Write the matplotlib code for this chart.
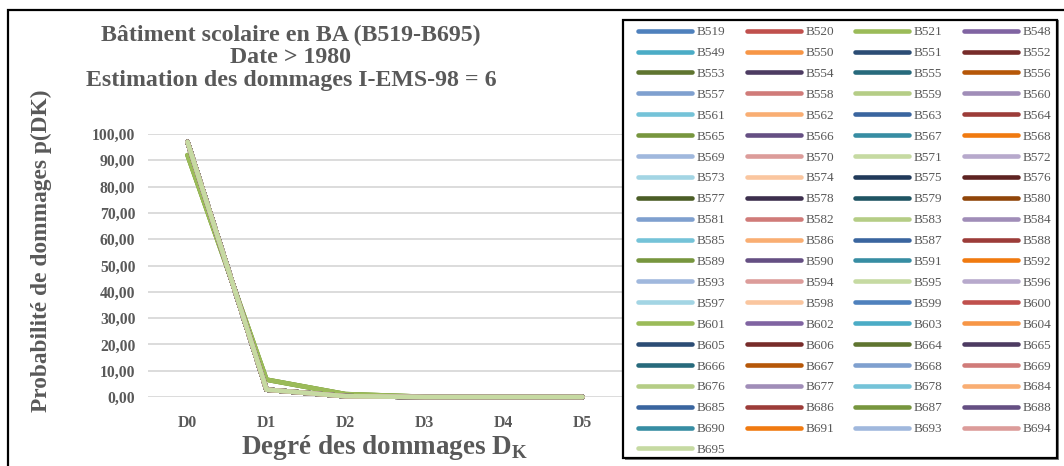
import matplotlib
matplotlib.use("Agg")
import matplotlib.pyplot as plt
from matplotlib.patches import Rectangle

# --- data -------------------------------------------------------------
degrees = ["D0", "D1", "D2", "D3", "D4", "D5"]

buildings = [519, 520, 521] + list(range(548, 607)) + \
    [664, 665, 666, 667, 668, 669, 676, 677, 678,
     684, 685, 686, 687, 688, 690, 691, 693, 694, 695]

# most buildings follow this damage distribution
profile_main = [97.0, 2.8, 0.3, 0.0, 0.0, 0.0]
# a few (green) buildings sit a bit lower at D0
profile_low = [92.0, 6.6, 1.1, 0.1, 0.0, 0.0]
low_buildings = [521, 565, 601]

# Excel 2010 theme colours, base hues and shade/tint variants
base = ["#4F81BD", "#C0504D", "#9BBB59", "#8064A2", "#4BACC6", "#F79646"]
dark = ["#2C4D75", "#772C2A", "#5F7530", "#4D3B62", "#276A7C", "#B65708"]
light = ["#7FA0CF", "#D07B79", "#B5CD86", "#A08DB8", "#75C3D8", "#F9AE73"]
middark = ["#3A659F", "#9C3C39", "#77963E", "#654F83", "#378DA3", "#F07A10"]
lighter = ["#A0B8DD", "#DC9C9A", "#C6DAA2", "#B7A9CC", "#A3D5E4", "#FAC69F"]
darker = ["#213A5A", "#5E2321", "#4B5D26", "#3C2F4D", "#1F5463", "#904509"]
variant_order = [base, dark, light, middark, lighter, darker, light,
                 middark, lighter, base, dark, light, middark, lighter]

GRAY = "#595959"
SERIF = "Liberation Serif"

plt.rcParams["font.family"] = SERIF
plt.rcParams["mathtext.fontset"] = "custom"
plt.rcParams["mathtext.rm"] = "Liberation Serif:bold"

fig = plt.figure(figsize=(10.64, 4.66), dpi=100)
W, H = 1064, 466

ax = fig.add_axes([148 / W, 1 - 397 / H, (622 - 148) / W, (397 - 134) / H])

x = list(range(len(degrees)))
handles = []
for i, b in enumerate(buildings):
    col = variant_order[i // 6][i % 6]
    vals = profile_low if b in low_buildings else profile_main
    ln, = ax.plot(x, vals, color=col, lw=3.3, solid_capstyle="round",
                  solid_joinstyle="round", clip_on=False, zorder=3,
                  label="B%d" % b)
    handles.append(ln)

ax.set_xlim(-0.5, 5.5)
ax.set_ylim(0, 100)
ax.set_yticks(range(0, 101, 10))
ax.set_yticklabels([("%.2f" % v).replace(".", ",") for v in range(0, 101, 10)])
ax.set_xticks(x)
ax.set_xticklabels(degrees)
for s in ax.spines.values():
    s.set_visible(False)
ax.grid(axis="y", color="#D9D9D9", lw=1.3)
ax.set_axisbelow(True)
ax.tick_params(length=0, labelsize=11.3, labelcolor=GRAY)
ax.tick_params(axis="y", pad=9)
ax.tick_params(axis="x", pad=13)
for t in ax.get_xticklabels() + ax.get_yticklabels():
    t.set_fontweight("bold")

# titles / labels
fig.text(291 / W, 1 - 57.5 / H,
         "Bâtiment scolaire en BA (B519-B695)\nDate > 1980\n"
         "Estimation des dommages I-EMS-98 = 6",
         ha="center", va="center", fontsize=17.2, fontweight="bold",
         color=GRAY, linespacing=1.09)
fig.text(41 / W, 1 - 251 / H, "Probabilité de dommages p(DK)",
         rotation=90, ha="center", va="center", fontsize=16.8,
         fontweight="bold", color=GRAY)
fig.text(385 / W, 1 - 447 / H, r"Degré des dommages D$_{\mathrm{K}}$",
         ha="center", va="center", fontsize=19.5, fontweight="bold",
         color=GRAY)

# outer chart border (top and left visible)
fig.add_artist(Rectangle((8 / W, -0.1), 1.2, 1.1 - 10 / H,
                         transform=fig.transFigure, fill=False,
                         ec="black", lw=1.6))

# legend frame drawn by hand, with a small shadow
fig.add_artist(Rectangle((625 / W, 1 - 460 / H), (1059 - 625) / W, 440 / H,
                         transform=fig.transFigure, fc="#7F7F7F",
                         ec="none", zorder=4))
fig.add_artist(Rectangle((623 / W, 1 - 458 / H), (1057 - 623) / W, 438 / H,
                         transform=fig.transFigure, fc="white",
                         ec="black", lw=1.6, zorder=5))

# legend is filled column by column, so reorder to read row by row
ncol = 4
ordered = [handles[j] for c in range(ncol)
           for j in range(c, len(handles), ncol)]
leg = fig.legend(handles=ordered, loc="upper left",
                 bbox_to_anchor=(638 / W, 1 - 26 / H), ncol=ncol,
                 frameon=False, fontsize=9.5, handlelength=4.1,
                 handletextpad=0.35, columnspacing=1.6, labelspacing=0.656,
                 borderpad=0, borderaxespad=0)
leg.set_zorder(6)
for t in leg.get_texts():
    t.set_color(GRAY)

fig.savefig("out.png", dpi=100)
